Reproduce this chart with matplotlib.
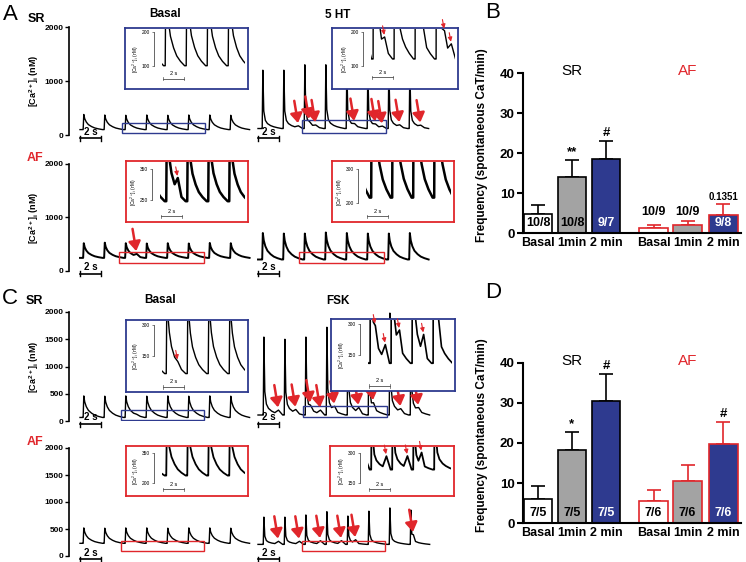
import numpy as np
import matplotlib
matplotlib.use("Agg")
import matplotlib.pyplot as plt
from matplotlib.patches import Rectangle
from matplotlib.transforms import blended_transform_factory as blend

plt.rcParams['font.family'] = ['Liberation Sans', 'DejaVu Sans']
plt.rcParams['mathtext.fontset'] = 'custom'
plt.rcParams['mathtext.rm'] = 'Liberation Sans'
plt.rcParams['mathtext.it'] = 'Liberation Sans:italic'
plt.rcParams['mathtext.bf'] = 'Liberation Sans:bold'

BLUE = '#2e3a8f'
RED = '#e0262b'
GRAY = '#a3a3a3'

# ---- Ca2+ traces (time in s, [Ca2+]i in nM) ----
# one transient: time offsets and fraction of the peak
BEAT_DT = [-0.05, 0.0, 0.06, 0.15, 0.3, 0.5, 0.8, 1.1, 1.45, 1.85]
SLOW = [0, 0, 1.0, 0.72, 0.5, 0.33, 0.2, 0.11, 0.05, 0.0]
SHARP = [0, 0, 1.0, 0.3, 0.14, 0.085, 0.05, 0.03, 0.014, 0.0]

BEATS_BASAL = [0.3, 2.3, 4.3, 6.3, 8.3, 10.3, 12.3, 14.3]
BEATS_5HT = [0.4, 2.4, 4.4, 6.4, 8.4, 10.4, 12.4, 14.4]
BEATS_FSK = [0.5, 2.5, 4.5, 6.5, 8.5, 10.5, 12.5, 14.5]

A_SR_BAS_PEAK = [380, 370, 365, 370, 365, 370, 370, 365]
A_SR_5HT_PEAK = [1200, 1200, 1300, 1300, 1250, 1200, 1250, 1200]
A_AF_BAS_PEAK = [520, 530, 520, 515, 520, 515, 525, 520]
A_AF_5HT_PEAK = [710, 700, 700, 720, 710, 700, 700, 710]
C_SR_BAS_PEAK = [460, 455, 460, 455, 460, 455, 460, 455]
C_SR_FSK_PEAK = [1540, 1500, 1540, 1720, 1750, 1700, 1980, 1650]
C_AF_BAS_PEAK = [520, 515, 520, 520, 515, 520, 520, 515]
C_AF_FSK_PEAK = [720, 720, 760, 820, 740, 830, 890, 850]

BASE = {'A_SR_BAS': 100, 'A_SR_5HT': 120, 'A_AF_BAS': 245, 'A_AF_5HT': 215,
        'C_SR_BAS': 65, 'C_SR_FSK': 110, 'C_AF_BAS': 235, 'C_AF_FSK': 215}

# spontaneous events (red arrows)
A_SR_5HT_SPONT_T = [3.7, 4.95, 5.6, 9.2, 11.1, 11.7, 13.5, 15.4]
A_SR_5HT_SPONT_NM = [35, 30, 30, 35, 30, 30, 35, 30]
A_AF_BAS_SPONT_T = [5.5]
A_AF_BAS_SPONT_NM = [45]
C_SR_BAS_SPONT_T = [5.3]
C_SR_BAS_SPONT_NM = [15]
C_SR_FSK_SPONT_T = [1.8, 3.7, 5.1, 5.9, 7.4, 9.5, 11.1, 13.7, 15.4]
C_SR_FSK_SPONT_NM = [70, 60, 60, 70, 80, 90, 90, 60, 60]
C_AF_FSK_SPONT_T = [1.8, 3.9, 5.9, 7.8, 9.4, 14.9]
C_AF_FSK_SPONT_NM = [50, 50, 60, 60, 60, 90]

# zoomed region (t1, t2, nM lo, nM hi) and inset range (ylo, yhi, scale lo, scale hi)
ZOOM = {'A_SR_BAS': (4.0, 11.9, 37, 222), 'A_SR_5HT': (4.2, 12.2, 37, 278),
        'A_AF_BAS': (3.7, 11.8, 150, 355), 'A_AF_5HT': (3.9, 12.0, 150, 355),
        'C_SR_BAS': (3.9, 11.8, 18, 202), 'C_SR_FSK': (4.3, 12.3, 73, 275),
        'C_AF_BAS': (3.9, 11.8, 93, 278), 'C_AF_FSK': (4.2, 12.1, 93, 278)}
INSET = {'A_SR_BAS': (34, 209, 100, 200), 'A_SR_5HT': (34, 209, 100, 200),
         'A_AF_BAS': (181, 372, 250, 350), 'A_AF_5HT': (146, 320, 200, 300),
         'C_SR_BAS': (-19, 319, 150, 300), 'C_SR_FSK': (-19, 319, 150, 300),
         'C_AF_BAS': (137, 379, 200, 350), 'C_AF_FSK': (87, 329, 150, 300)}

# ---- bar charts ----
BAR_X = [0, 1, 2, 3.4, 4.4, 5.45]
BAR_LABELS = ['Basal', '1min', '2 min', 'Basal', '1min', '2 min']
B_MEAN = [4.7, 14.1, 18.6, 1.3, 1.9, 4.6]
B_ERR = [2.3, 4.1, 4.5, 0.6, 1.0, 2.6]
B_N = ['10/8', '10/8', '9/7', '10/9', '10/9', '9/8']
B_MARK = ['', '**', '#', '', '', '0.1351']
D_MEAN = [6.1, 18.3, 30.6, 5.4, 10.5, 19.8]
D_ERR = [3.1, 4.45, 6.7, 2.9, 3.9, 5.5]
D_N = ['7/5', '7/5', '7/5', '7/6', '7/6', '7/6']
D_MARK = ['', '*', '#', '', '', '#']

W, H = 746, 562
PX_S = 10.5
fig = plt.figure(figsize=(W / 100, H / 100), dpi=100)


def box(x0, y0, x1, y1):
    return [x0 / W, 1 - y1 / H, (x1 - x0) / W, (y1 - y0) / H]


def ftext(x, y, s, **kw):
    fig.text(x / W, 1 - y / H, s, **kw)


def make_trace(times, peaks, base, shape, spont_t, spont_nm):
    dt = np.array(BEAT_DT)
    fr = np.array(shape)
    t = np.concatenate([[0.0]] + [tp + dt for tp in times])
    v = np.concatenate([[base]] + [base + (pk - base) * fr for pk in peaks])
    bumps = []
    for ts, a in zip(spont_t, spont_nm):
        i = int(np.argmin(np.abs(t - ts)))
        v[i] += a
        bumps.append((t[i], v[i]))
    return t, v, bumps


ROW_PX = {'A_SR': (27, 135), 'A_AF': (164, 271), 'C_SR': (312, 421), 'C_AF': (448, 556)}
COL_PX = {'L': (69, 252, 80), 'R': (255, 432, 258)}

PANELS = [
    ('A_SR_BAS', 'A_SR', 'L', BEATS_BASAL, A_SR_BAS_PEAK, SLOW, [], [], BLUE, (125, 28, 248, 89), 0.16, 1.0, False),
    ('A_SR_5HT', 'A_SR', 'R', BEATS_5HT, A_SR_5HT_PEAK, SHARP, A_SR_5HT_SPONT_T, A_SR_5HT_SPONT_NM, BLUE, (332, 28, 458, 89), 0.18, 1.0, True),
    ('A_AF_BAS', 'A_AF', 'L', BEATS_BASAL, A_AF_BAS_PEAK, SLOW, A_AF_BAS_SPONT_T, A_AF_BAS_SPONT_NM, RED, (126, 161, 248, 222), 0.08, 1.8, True),
    ('A_AF_5HT', 'A_AF', 'R', BEATS_5HT, A_AF_5HT_PEAK, SLOW, [], [], RED, (332, 161, 454, 222), 0.08, 1.8, False),
    ('C_SR_BAS', 'C_SR', 'L', BEATS_BASAL, C_SR_BAS_PEAK, SLOW, C_SR_BAS_SPONT_T, C_SR_BAS_SPONT_NM, BLUE, (126, 320, 248, 392), 0.06, 1.0, False),
    ('C_SR_FSK', 'C_SR', 'R', BEATS_FSK, C_SR_FSK_PEAK, SHARP, C_SR_FSK_SPONT_T, C_SR_FSK_SPONT_NM, BLUE, (331, 319, 455, 391), 0.06, 1.2, True),
    ('C_AF_BAS', 'C_AF', 'L', BEATS_BASAL, C_AF_BAS_PEAK, SLOW, [], [], RED, (126, 446, 248, 496), 0.12, 1.3, False),
    ('C_AF_FSK', 'C_AF', 'R', BEATS_FSK, C_AF_FSK_PEAK, SHARP, C_AF_FSK_SPONT_T, C_AF_FSK_SPONT_NM, RED, (330, 446, 454, 496), 0.12, 1.3, True),
]

YLABEL = r'[Ca$^{\mathbf{2+}}$]$_{\mathbf{i}}$ (nM)'

for key, row, col, times, peaks, shape, sp_t, sp_nm, color, ibox, bar_y, lw_in, main_arrows in PANELS:
    base = BASE[key]
    t, v, bumps = make_trace(times, peaks, base, shape, sp_t, sp_nm)
    y_top, y_bot = ROW_PX[row]
    x0, x1, t_org = COL_PX[col]
    ax = fig.add_axes(box(x0, y_top, x1, y_bot), zorder=1)
    ax.patch.set_alpha(0)
    ax.set_xlim((x0 - t_org) / PX_S, (x1 - t_org) / PX_S)
    ax.set_ylim(0, 2000)
    for s in ['top', 'right', 'bottom']:
        ax.spines[s].set_visible(False)
    ax.set_xticks([])
    if col == 'L':
        ax.spines['left'].set_linewidth(1.2)
        ticks = [0, 1000, 2000] if row.startswith('A') else [0, 500, 1000, 1500, 2000]
        ax.set_yticks(ticks)
        ax.tick_params(axis='y', length=3, width=1.0, pad=1, labelsize=6)
        for lab in ax.get_yticklabels():
            lab.set_fontweight('bold')
        if row != 'C_AF':
            ax.set_ylabel(YLABEL, fontsize=6.5, fontweight='bold')
            ax.yaxis.set_label_coords(-28 / (x1 - x0), 0.5)
    else:
        ax.spines['left'].set_visible(False)
        ax.set_yticks([])
    ax.plot(t, v, color='black', lw=1.0 if lw_in < 1.5 else 1.4)

    # 2 s scale bar
    tr = blend(ax.transData, ax.transAxes)
    yb = -3 / (y_bot - y_top)
    dy = 2.5 / (y_bot - y_top)
    ax.plot([0, 2], [yb, yb], color='black', lw=1.2, transform=tr, clip_on=False)
    ax.plot([0, 0], [yb - dy, yb + dy], color='black', lw=1.0, transform=tr, clip_on=False)
    ax.plot([2, 2], [yb - dy, yb + dy], color='black', lw=1.0, transform=tr, clip_on=False)
    ax.text(1, yb + dy * 0.6, '2 s', transform=tr, ha='center', va='bottom',
            fontsize=7, fontweight='bold')

    # zoomed region
    z1, z2, zlo, zhi = ZOOM[key]
    ax.add_patch(Rectangle((z1, zlo), z2 - z1, zhi - zlo, fill=False,
                           edgecolor=color, lw=1.0, zorder=3))

    if main_arrows:
        for tb, vb in bumps:
            ax.annotate('', xy=(tb, vb), xytext=(-3, 18), textcoords='offset points',
                        arrowprops=dict(arrowstyle='-|>,head_length=0.7,head_width=0.45',
                                        color=RED, lw=1.8, mutation_scale=8,
                                        shrinkA=0, shrinkB=2))

    # inset
    bx0, by0, bx1, by1 = ibox
    axb = fig.add_axes(box(bx0, by0, bx1, by1), zorder=5)
    axb.set_xticks([])
    axb.set_yticks([])
    for s in axb.spines.values():
        s.set_color(color)
        s.set_linewidth(1.3)
    w_in = (z2 - z1) * PX_S
    axi = fig.add_axes(box(bx1 - 3 - w_in, by0 + 1, bx1 - 3, by1 - 1), zorder=6)
    axi.patch.set_alpha(0)
    ylo, yhi, slo, shi = INSET[key]
    axi.set_xlim(z1, z2)
    axi.set_ylim(ylo, yhi)
    axi.plot(t, v, color='black', lw=lw_in)
    for s in ['top', 'right', 'bottom']:
        axi.spines[s].set_visible(False)
    axi.spines['left'].set_position(('outward', 6))
    axi.spines['left'].set_bounds(slo, shi)
    axi.spines['left'].set_linewidth(0.6)
    axi.spines['left'].set_color('0.3')
    axi.set_xticks([])
    axi.set_yticks([slo, shi])
    axi.tick_params(axis='y', length=1.5, width=0.5, pad=1, labelsize=3.5, color='0.3')
    axi.set_ylabel(r'[Ca$^{2+}$]$_i$ (nM)', fontsize=3.5, labelpad=1)
    tri = blend(axi.transData, axi.transAxes)
    axi.plot([z1 + 0.1, z1 + 2.1], [bar_y, bar_y], color='0.3', lw=0.6, transform=tri, clip_on=False)
    for tx in (z1 + 0.1, z1 + 2.1):
        axi.plot([tx, tx], [bar_y - 0.03, bar_y + 0.03], color='0.3', lw=0.5, transform=tri, clip_on=False)
    axi.text(z1 + 1.1, bar_y + 0.04, '2 s', transform=tri, ha='center', va='bottom', fontsize=4)
    for tb, vb in bumps:
        if z1 < tb < z2:
            axi.annotate('', xy=(tb, vb), xytext=(-1.5, 8), textcoords='offset points',
                         arrowprops=dict(arrowstyle='-|>,head_length=0.5,head_width=0.25',
                                         color=RED, lw=0.8, mutation_scale=5,
                                         shrinkA=0, shrinkB=1.5))

# ---- panel text for traces ----
for letter, x, y in [('A', 10, 15), ('C', 10, 298)]:
    ftext(x, y, letter, fontsize=16, ha='center', va='center')
for x, y, s, c in [(36, 19, 'SR', 'black'), (35, 158, 'AF', RED),
                   (34, 301, 'SR', 'black'), (35, 442, 'AF', RED)]:
    ftext(x, y, s, fontsize=9, fontweight='bold', color=c, ha='center', va='center')
for x, y, s in [(165, 14, 'Basal'), (338, 15, '5 HT'), (160, 300, 'Basal'), (338, 301, 'FSK')]:
    ftext(x, y, s, fontsize=8.5, fontweight='bold', ha='center', va='center')


# ---- bar panels ----
def bar_panel(ax, mean, err, nlab, marks):
    face = ['white', GRAY, BLUE] * 2
    edge = ['black'] * 3 + [RED] * 3
    ax.bar(BAR_X, mean, width=0.85, color=face, edgecolor=edge, linewidth=1.2, zorder=2)
    for xi, m, e, c in zip(BAR_X, mean, err, edge):
        ax.errorbar(xi, m, yerr=[[0], [e]], fmt='none', ecolor=c, elinewidth=1.2,
                    capsize=5, capthick=1.2, zorder=1)
    for xi, m, e, n, mk, fc in zip(BAR_X, mean, err, nlab, marks, face):
        if m < 4:
            ax.text(xi, 5.2, n, ha='center', va='center', fontsize=9, fontweight='bold')
        else:
            ax.text(xi, 2.5, n, ha='center', va='center', fontsize=9, fontweight='bold',
                    color='white' if fc == BLUE else 'black', zorder=3)
        if mk:
            fs = 7 if len(mk) > 2 else 9.5
            ax.text(xi, m + e + 0.5, mk, ha='center', va='bottom', fontsize=fs,
                    fontweight='bold', clip_on=False)
    ax.text(1, 40.4, 'SR', ha='center', va='center', fontsize=11, clip_on=False)
    ax.text(4.4, 40.4, 'AF', ha='center', va='center', fontsize=11, color=RED, clip_on=False)
    ax.set_xlim(-0.44, 5.97)
    ax.set_ylim(0, 40)
    ax.set_yticks([0, 10, 20, 30, 40])
    ax.set_xticks(BAR_X)
    ax.set_xticklabels(BAR_LABELS)
    for s in ['top', 'right']:
        ax.spines[s].set_visible(False)
    for s in ['left', 'bottom']:
        ax.spines[s].set_linewidth(1.5)
    ax.tick_params(axis='y', length=4, width=1.5, pad=2, labelsize=9.5)
    ax.tick_params(axis='x', length=0, pad=3, labelsize=9)
    for lab in ax.get_xticklabels() + ax.get_yticklabels():
        lab.set_fontweight('bold')
    ax.set_ylabel('Frequency (spontaneous CaT/min)', fontsize=8.5, fontweight='bold')
    ax.yaxis.set_label_coords(-0.16, 0.55)


axB = fig.add_axes(box(523, 73, 741, 233))
bar_panel(axB, B_MEAN, B_ERR, B_N, B_MARK)
axD = fig.add_axes(box(523, 363, 741, 523))
bar_panel(axD, D_MEAN, D_ERR, D_N, D_MARK)
ftext(493, 13, 'B', fontsize=16, ha='center', va='center')
ftext(493, 293, 'D', fontsize=16, ha='center', va='center')

fig.savefig('out.png', dpi=100)
